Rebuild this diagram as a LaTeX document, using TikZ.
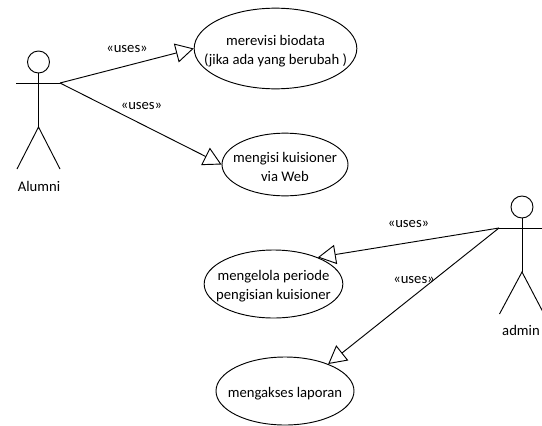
\documentclass[tikz,border=0pt]{standalone}
\usepackage{fontspec}
\setmainfont{Carlito}
\usetikzlibrary{arrows.meta,shapes.geometric}
\newcommand{\lift}{\rule{0pt}{11pt}}

\begin{document}
\begin{tikzpicture}[x=0.75pt,y=-0.75pt,line width=0.7pt,
  >={Triangle[open,length=13.5pt,width=14.5pt]},
  case node/.style={ellipse,draw,inner xsep=-30pt,inner ysep=-15pt,align=center,font=\fontsize{11}{14.2}\selectfont},
  head node/.style={circle,draw,inner sep=0pt,minimum size=16.5pt},
  text node/.style={inner sep=0pt,font=\fontsize{11}{13}\selectfont}]
\useasboundingbox (0,0) rectangle (542,425);

\node[case node,minimum width=122pt,minimum height=60.5pt](biodata) at (275.5,48.5) {\lift merevisi biodata\\(jika ada yang berubah )};
\node[case node,minimum width=94.5pt,minimum height=47pt](kuisioner) at (285,164.5) {\lift mengisi kuisioner\\via Web};
\node[case node,minimum width=104pt,minimum height=51pt](periode) at (273.5,284) {\lift mengelola periode\\pengisian kuisioner};
\node[case node,minimum width=103.5pt,minimum height=51pt](laporan) at (285,391) {\lift mengakses laporan};

% alumni
\node[head node](H1) at (38.5,62) {};
\coordinate (N1) at (38.5,83);
\coordinate (LA1) at (16,83);
\coordinate (RA1) at (60,83);
\coordinate (W1) at (38.5,127);
\coordinate (LL1) at (17,169);
\coordinate (RL1) at (60,169);
\node[text node](A1) at (39,186) {Alumni};

% admin
\node[head node](H2) at (522,207) {};
\coordinate (N2) at (522,228);
\coordinate (LA2) at (499,228);
\coordinate (RA2) at (545,228);
\coordinate (W2) at (522,272);
\coordinate (LL2) at (499.5,314);
\coordinate (RL2) at (544,314);
\node[text node](A2) at (521,330.5) {admin};

\draw (H1) -- (W1);
\draw (LA1) -- (RA1);
\draw (LL1) -- (W1) -- (RL1);
\draw (H2) -- (W2);
\draw (LA2) -- (RA2);
\draw (LL2) -- (W2) -- (RL2);

\path[->]
(RA1) edge (biodata.west)
(RA1) edge (kuisioner.west)
(LA2) edge (periode.31)
(LA2) edge (laporan.32);

\node[text node](U1) at (127,48.5) {«uses»};
\node[text node](U2) at (141.5,105.5) {«uses»};
\node[text node](U3) at (408.5,224) {«uses»};
\node[text node](U4) at (414,279.5) {«uses»};
\end{tikzpicture}
\end{document}
